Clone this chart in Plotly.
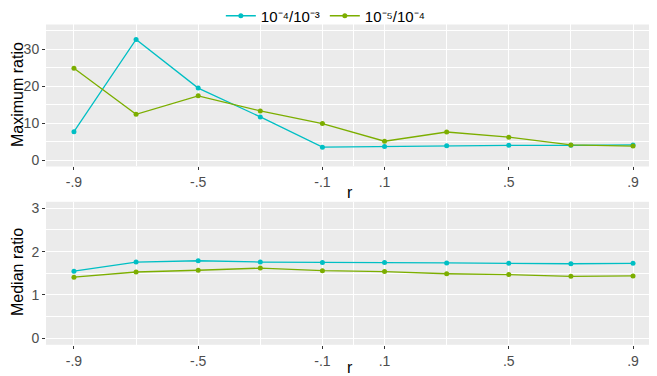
import plotly.graph_objects as go

r_labels = ["-.9", "-.7", "-.5", "-.3", "-.1", ".1", ".3", ".5", ".7", ".9"]
shown_ticks = ["-.9", "-.5", "-.1", ".1", ".5", ".9"]
series_names = ["10\u207b\u2074/10\u207b\u00b3", "10\u207b\u2075/10\u207b\u2074"]

max_cyan = [7.7, 32.7, 19.5, 11.7, 3.5, 3.7, 3.9, 4.0, 4.0, 4.1]
max_green = [24.9, 12.4, 17.4, 13.3, 9.9, 5.1, 7.6, 6.2, 4.1, 3.8]
med_cyan = [1.55, 1.76, 1.79, 1.76, 1.75, 1.75, 1.74, 1.73, 1.72, 1.73]
med_green = [1.41, 1.53, 1.57, 1.62, 1.56, 1.54, 1.49, 1.47, 1.43, 1.44]

colors = ["#00BFC4", "#7CAE00"]
xi = list(range(len(r_labels)))
major_idx = [r_labels.index(t) for t in shown_ticks]
minor_idx = [i for i in xi if i not in major_idx] + [4.5]

# page body has an 8px margin; figure is drawn 8px smaller and offset
W, H, L = 649, 368, 38

fig = go.Figure()
for k, (ys, name) in enumerate([(max_cyan, series_names[0]), (max_green, series_names[1])]):
    fig.add_trace(go.Scatter(x=xi, y=ys, name=name, mode="lines+markers",
                             line=dict(color=colors[k], width=1.3),
                             marker=dict(color=colors[k], size=5),
                             xaxis="x", yaxis="y", legendgroup=name))
for k, (ys, name) in enumerate([(med_cyan, series_names[0]), (med_green, series_names[1])]):
    fig.add_trace(go.Scatter(x=xi, y=ys, name=name, mode="lines+markers",
                             line=dict(color=colors[k], width=1.3),
                             marker=dict(color=colors[k], size=5),
                             xaxis="x2", yaxis="y2", legendgroup=name, showlegend=False))

tickfont = dict(family="Liberation Sans", size=14, color="#4D4D4D")
xcommon = dict(range=[-0.45, 9.386], tickmode="array", tickvals=major_idx, ticktext=shown_ticks,
               showgrid=True, gridcolor="white", gridwidth=1.1, zeroline=False,
               ticks="outside", ticklen=3, tickcolor="#333333", tickwidth=1,
               tickfont=tickfont, showline=False, automargin=False,
               minor=dict(tickvals=minor_idx, showgrid=True, gridcolor="white", gridwidth=1.1, ticklen=0))
ycommon = dict(showgrid=True, gridcolor="white", gridwidth=1.1, zeroline=False,
               ticks="outside", ticklen=3, tickcolor="#333333", tickwidth=1,
               tickfont=tickfont, showline=False, automargin=False)

fig.update_layout(
    width=W, height=H,
    margin=dict(l=L, r=0, t=0, b=0, autoexpand=False),
    paper_bgcolor="white", plot_bgcolor="#EBEBEB",
    font=dict(family="Liberation Sans", size=14, color="black"),
    xaxis=dict(**xcommon, domain=[0, 1], anchor="y"),
    xaxis2=dict(**xcommon, domain=[0, 1], anchor="y2"),
    yaxis=dict(**ycommon, domain=[0.5693, 0.9552], range=[-1.75, 36.75],
               tickvals=[0, 10, 20, 30],
               minor=dict(tickvals=[5, 15, 25, 35], showgrid=True, gridcolor="white", gridwidth=0.6, ticklen=0)),
    yaxis2=dict(**ycommon, domain=[0.0848, 0.4734], range=[-0.15, 3.15],
                tickvals=[0, 1, 2, 3],
                minor=dict(tickvals=[0.5, 1.5, 2.5], showgrid=True, gridcolor="white", gridwidth=0.6, ticklen=0)),
    legend=dict(orientation="h", x=0.458, xanchor="center", y=1 - 8 / H, yanchor="middle",
                font=dict(size=15), bgcolor="rgba(0,0,0,0)", itemwidth=30),
    showlegend=True,
)

def ann(text, xpx, ypx, angle=0):
    fig.add_annotation(text=text, x=(xpx - L) / (W - L), xref="paper", y=1 - ypx / H, yref="paper",
                       showarrow=False, font=dict(size=16), xanchor="center", yanchor="middle",
                       textangle=angle)

ann("r", 350 - 8, 192 - 8)
ann("r", 350 - 8, 367 - 8)
ann("Maximum ratio", 17 - 8, 95 - 8, -90)
ann("Median ratio", 17 - 8, 272 - 8, -90)

fig.write_html("out.html")
